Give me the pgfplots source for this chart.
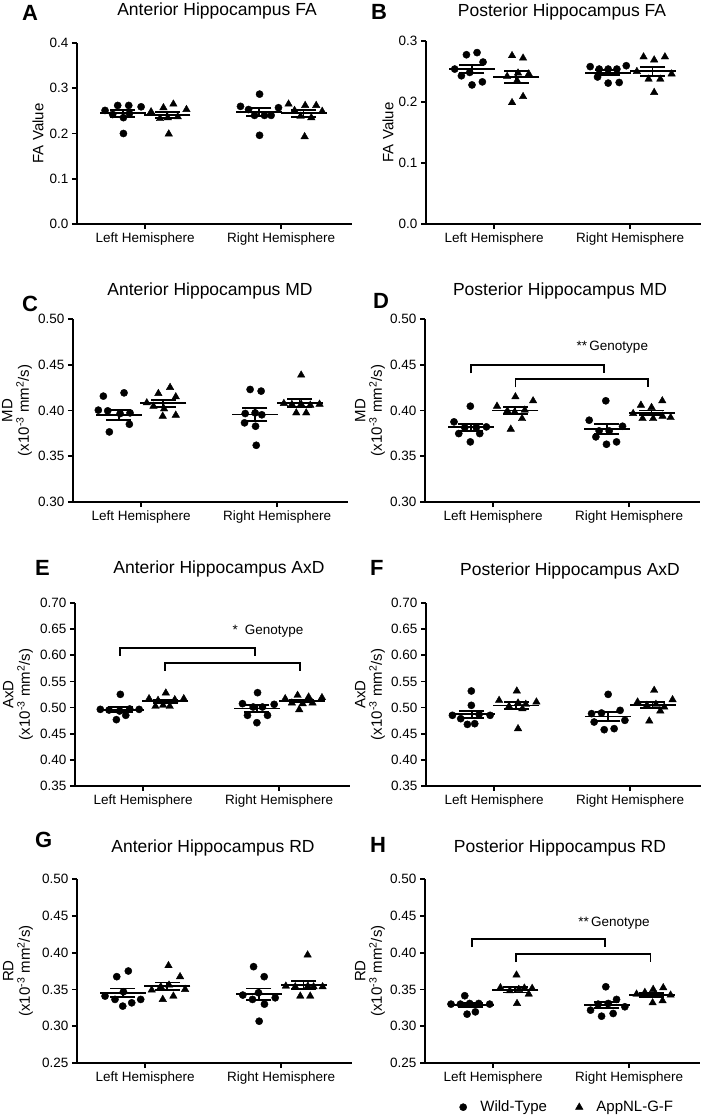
\documentclass[border=0pt]{standalone}
\usepackage{pgfplots}
\pgfplotsset{compat=1.18}
\usepackage{fontspec}
\setmainfont{Liberation Sans}
\newcommand{\fs}[2]{\fontsize{#1}{#2}\selectfont}
\pgfplotsset{
  prism/.style={
    scale only axis, width=275pt, height=183pt, anchor=south west,
    axis lines*=left, axis line style={-, line width=1.8pt},
    xmin=0.5, xmax=2.52,
    xtick={1,2}, xticklabels={Left Hemisphere, Right Hemisphere},
    tick align=outside, major tick length=5pt,
    every tick/.style={black, line width=1.8pt},
    tick label style={font=\fs{13.5}{16}},
    /pgf/number format/assume math mode=true,
    yticklabel style={/pgf/number format/fixed, /pgf/number format/fixed zerofill, /pgf/number format/precision=2},
    clip=false,
  },
  one/.style={yticklabel style={/pgf/number format/precision=1}},
  wt/.style={only marks, mark=*, mark size=3.6pt, black},
  app/.style={only marks, mark=triangle*, mark size=4.3pt, black},
  mline/.style={forget plot, only marks, mark=-, mark size=23pt, mark options={line width=1.9pt}, black,
    error bars/.cd, y dir=both, y explicit, error mark=none, error bar style={line width=1.9pt, black}},
  whisk/.style={forget plot, only marks, mark=-, mark size=12.5pt, mark options={line width=1.9pt}, black},
}
\tikzset{brk/.style={line width=1.8pt, line join=miter}}
\begin{document}
\begin{tikzpicture}
\useasboundingbox (0,0) rectangle (706pt,-1116pt);

% ---------- A ----------
\begin{axis}[prism, one, at={(77pt,-224pt)}, height=181pt, ymin=0, ymax=0.4, ytick={0,0.1,0.2,0.3,0.4}]
\addplot[wt] coordinates {(0.706,0.251) (0.799,0.262) (0.880,0.262) (0.971,0.259) (0.762,0.242) (0.841,0.235) (0.885,0.244) (0.841,0.200)
 (1.701,0.260) (1.841,0.287) (1.760,0.253) (1.980,0.257) (1.804,0.240) (1.877,0.240) (1.926,0.240) (1.841,0.196)};
\addplot[app] coordinates {(1.044,0.248) (1.135,0.257) (1.208,0.265) (1.304,0.253) (1.110,0.233) (1.167,0.235) (1.240,0.237) (1.174,0.199)
 (2.054,0.265) (2.098,0.251) (2.176,0.262) (2.257,0.262) (2.301,0.249) (2.142,0.238) (2.221,0.235) (2.172,0.193)};
\addplot[mline] coordinates {(0.836,0.2444) +- (0,0.0073) (1.164,0.2409) +- (0,0.0072) (1.836,0.2466) +- (0,0.0088) (2.164,0.2444) +- (0,0.0083)};
\addplot[whisk] coordinates {(0.836,0.2517) (0.836,0.2371) (1.164,0.2481) (1.164,0.2337) (1.836,0.2554) (1.836,0.2378) (2.164,0.2527) (2.164,0.2361)};
\end{axis}

% ---------- B ----------
\begin{axis}[prism, one, at={(426pt,-224pt)}, ymin=0, ymax=0.3, ytick={0,0.1,0.2,0.3}]
\addplot[wt] coordinates {(0.711,0.254) (0.797,0.2775) (0.875,0.281) (0.919,0.2655) (0.760,0.243) (0.821,0.2485) (0.838,0.228) (0.914,0.233)
 (1.706,0.258) (1.772,0.254) (1.838,0.254) (1.902,0.254) (1.971,0.2595) (1.760,0.241) (1.838,0.231) (1.919,0.232)};
\addplot[app] coordinates {(1.132,0.276) (1.213,0.272) (1.096,0.242) (1.176,0.2475) (1.255,0.246) (1.169,0.235) (1.213,0.209) (1.132,0.199)
 (2.049,0.250) (2.098,0.274) (2.176,0.269) (2.255,0.274) (2.304,0.246) (2.135,0.2375) (2.221,0.2375) (2.176,0.2157)};
\addplot[mline] coordinates {(0.836,0.2538) +- (0,0.0068) (1.164,0.2408) +- (0,0.0096) (1.836,0.2479) +- (0,0.0039) (2.164,0.2505) +- (0,0.0072)};
\addplot[whisk] coordinates {(0.836,0.2606) (0.836,0.2470) (1.164,0.2504) (1.164,0.2312) (1.836,0.2518) (1.836,0.2440) (2.164,0.2577) (2.164,0.2433)};
\end{axis}

% ---------- C ----------
\begin{axis}[prism, at={(73pt,-502pt)}, ymin=0.3, ymax=0.5, ytick={0.30,0.35,0.40,0.45,0.50}]
\addplot[wt] coordinates {(0.723,0.4157) (0.875,0.4193) (0.686,0.4004) (0.755,0.3996) (0.846,0.3967) (0.919,0.3974) (0.914,0.385) (0.767,0.3766)
 (1.801,0.423) (1.882,0.4212) (1.765,0.3967) (1.838,0.3974) (1.887,0.3953) (1.760,0.3865) (1.841,0.3828) (1.846,0.362)};
\addplot[app] coordinates {(1.042,0.4084) (1.127,0.4186) (1.213,0.4252) (1.255,0.415) (1.091,0.4047) (1.169,0.4018) (1.159,0.3938) (1.255,0.3949)
 (2.176,0.4387) (2.049,0.4077) (2.108,0.4066) (2.176,0.4069) (2.243,0.4058) (2.311,0.4069) (2.140,0.3974) (2.213,0.3974)};
\addplot[mline] coordinates {(0.836,0.3950) +- (0,0.0053) (1.164,0.4078) +- (0,0.0040) (1.836,0.3956) +- (0,0.0071) (2.164,0.4080) +- (0,0.0046)};
\addplot[whisk] coordinates {(0.836,0.4003) (0.836,0.3897) (1.164,0.4118) (1.164,0.4038) (1.836,0.4027) (1.836,0.3885) (2.164,0.4126) (2.164,0.4034)};
\end{axis}

% ---------- D ----------
\begin{axis}[prism, at={(425pt,-502pt)}, ymin=0.3, ymax=0.5, ytick={0.30,0.35,0.40,0.45,0.50}]
\addplot[wt] coordinates {(0.833,0.4047) (0.713,0.3876) (0.792,0.3814) (0.877,0.3814) (0.951,0.3821) (0.748,0.3748) (0.902,0.3748) (0.833,0.3657)
 (1.828,0.4106) (1.706,0.3894) (1.951,0.3828) (1.779,0.3777) (1.853,0.3777) (1.755,0.3712) (1.907,0.3657) (1.833,0.3631)};
\addplot[app] coordinates {(1.029,0.4047) (1.164,0.415) (1.294,0.4106) (1.105,0.3996) (1.159,0.3985) (1.233,0.4004) (1.213,0.3912) (1.130,0.3796)
 (2.086,0.4058) (2.243,0.4106) (2.029,0.3967) (2.164,0.4033) (2.098,0.3912) (2.176,0.3912) (2.245,0.3938) (2.304,0.3923)};
\addplot[mline] coordinates {(0.836,0.3816) +- (0,0.0039) (1.164,0.4000) +- (0,0.0039) (1.836,0.3798) +- (0,0.0053) (2.164,0.3975) +- (0,0.0025)};
\addplot[whisk] coordinates {(0.836,0.3855) (0.836,0.3777) (1.164,0.4039) (1.164,0.3961) (1.836,0.3851) (1.836,0.3745) (2.164,0.4000) (2.164,0.3950)};
\draw[brk] (axis cs:0.836,0.4405) -- (axis cs:0.836,0.4496) -- (axis cs:1.814,0.4496) -- (axis cs:1.814,0.4405);
\draw[brk] (axis cs:1.164,0.4252) -- (axis cs:1.164,0.4343) -- (axis cs:2.140,0.4343) -- (axis cs:2.140,0.4252);
\node[anchor=base west, inner sep=0pt, font=\fs{13.5}{16}] at (axis cs:1.613,0.4653) {**\,Genotype};
\end{axis}

% ---------- E ----------
\begin{axis}[prism, at={(75pt,-786pt)}, ymin=0.35, ymax=0.70, ytick={0.35,0.40,0.45,0.50,0.55,0.60,0.65,0.70}]
\addplot[wt] coordinates {(0.833,0.5253) (0.686,0.4966) (0.750,0.4953) (0.828,0.4934) (0.902,0.4973) (0.971,0.4966) (0.873,0.4852) (0.804,0.4769)
 (1.841,0.5285) (1.730,0.5075) (1.963,0.5062) (1.809,0.5011) (1.877,0.5011) (1.767,0.4852) (1.914,0.4852) (1.836,0.4711)};
\addplot[app] coordinates {(1.167,0.5279) (1.044,0.517) (1.110,0.5138) (1.233,0.5151) (1.299,0.517) (1.091,0.5024) (1.147,0.5043) (1.196,0.5024)
 (2.044,0.517) (2.135,0.5234) (2.216,0.5202) (2.314,0.519) (2.093,0.5087) (2.172,0.5075) (2.245,0.5087) (2.147,0.496)};
\addplot[mline] coordinates {(0.836,0.4958) +- (0,0.0050) (1.164,0.5125) +- (0,0.0030) (1.836,0.4982) +- (0,0.0064) (2.164,0.5126) +- (0,0.0028)};
\addplot[whisk] coordinates {(0.836,0.5008) (0.836,0.4908) (1.164,0.5155) (1.164,0.5095) (1.836,0.5046) (1.836,0.4918) (2.164,0.5154) (2.164,0.5098)};
\draw[brk] (axis cs:0.833,0.599) -- (axis cs:0.833,0.614) -- (axis cs:1.824,0.614) -- (axis cs:1.824,0.599);
\draw[brk] (axis cs:1.164,0.570) -- (axis cs:1.164,0.585) -- (axis cs:2.152,0.585) -- (axis cs:2.152,0.570);
\node[anchor=base west, inner sep=0pt, font=\fs{13.5}{16}] at (axis cs:1.657,0.6407) {*\hspace{7pt}Genotype};
\end{axis}

% ---------- F ----------
\begin{axis}[prism, at={(426pt,-786pt)}, ymin=0.35, ymax=0.70, ytick={0.35,0.40,0.45,0.50,0.55,0.60,0.65,0.70}]
\addplot[wt] coordinates {(0.833,0.5317) (0.833,0.5043) (0.694,0.4852) (0.755,0.4788) (0.890,0.4871) (0.971,0.4852) (0.804,0.4679) (0.858,0.4692)
 (1.838,0.5253) (1.716,0.4884) (1.789,0.4896) (1.926,0.4947) (1.961,0.4756) (1.735,0.4724) (1.809,0.4577) (1.882,0.4597)};
\addplot[app] coordinates {(1.167,0.5317) (1.037,0.5138) (1.110,0.5024) (1.176,0.5087) (1.233,0.5062) (1.311,0.5107) (1.208,0.4979) (1.176,0.4597)
 (2.176,0.533) (2.054,0.5107) (2.311,0.5151) (2.123,0.5043) (2.189,0.5062) (2.250,0.5011) (2.221,0.4934) (2.140,0.4743)};
\addplot[mline] coordinates {(0.836,0.4870) +- (0,0.0070) (1.164,0.5039) +- (0,0.0071) (1.836,0.4829) +- (0,0.0078) (2.164,0.5048) +- (0,0.0060)};
\addplot[whisk] coordinates {(0.836,0.4940) (0.836,0.4800) (1.164,0.5110) (1.164,0.4968) (1.836,0.4907) (1.836,0.4751) (2.164,0.5108) (2.164,0.4988)};
\end{axis}

% ---------- G ----------
\begin{axis}[prism, at={(77pt,-1063pt)}, height=184pt, ymin=0.25, ymax=0.50, ytick={0.25,0.30,0.35,0.40,0.45,0.50}]
\addplot[wt] coordinates {(0.792,0.3673) (0.877,0.375) (0.706,0.3409) (0.779,0.3364) (0.841,0.3468) (0.902,0.3318) (0.968,0.3364) (0.836,0.3273)
 (1.797,0.3809) (1.875,0.3673) (1.718,0.3423) (1.833,0.3455) (1.789,0.3364) (1.956,0.3386) (1.877,0.33) (1.838,0.3068)};
\addplot[app] coordinates {(1.172,0.3823) (1.257,0.3673) (1.049,0.3491) (1.115,0.3536) (1.176,0.3559) (1.294,0.35) (1.130,0.3364) (1.208,0.3409)
 (2.194,0.3968) (2.034,0.3545) (2.103,0.3536) (2.196,0.3545) (2.238,0.3536) (2.304,0.3536) (2.140,0.3409) (2.213,0.3409)};
\addplot[mline] coordinates {(0.836,0.3452) +- (0,0.0060) (1.164,0.3544) +- (0,0.0050) (1.836,0.3435) +- (0,0.0078) (2.164,0.3560) +- (0,0.0060)};
\addplot[whisk] coordinates {(0.836,0.3512) (0.836,0.3392) (1.164,0.3594) (1.164,0.3494) (1.836,0.3513) (1.836,0.3357) (2.164,0.3620) (2.164,0.3500)};
\end{axis}

% ---------- H ----------
\begin{axis}[prism, at={(425pt,-1063pt)}, height=184pt, ymin=0.25, ymax=0.50, ytick={0.25,0.30,0.35,0.40,0.45,0.50},
  legend columns=2,
  legend image code/.code={\path (-6pt,0pt) (15pt,0pt); \draw[#1] plot coordinates {(0pt,0pt)};},
  legend style={at={(axis description cs:0.513,-0.24)}, anchor=center, draw=none, fill=none, font=\fs{15}{18},
    /tikz/every even column/.append style={column sep=24pt}}]
\addplot[wt] coordinates {(0.792,0.3414) (0.691,0.33) (0.760,0.33) (0.828,0.3309) (0.895,0.3309) (0.975,0.33) (0.809,0.3164) (0.870,0.3195)
 (1.828,0.3536) (1.716,0.3218) (1.772,0.33) (1.846,0.3309) (1.907,0.3364) (1.968,0.3264) (1.797,0.3136) (1.882,0.3173)};
\addplot[app] coordinates {(1.172,0.3695) (1.054,0.3523) (1.123,0.3482) (1.189,0.35) (1.230,0.3518) (1.287,0.3514) (1.262,0.3436) (1.176,0.3309)
 (2.054,0.3436) (2.115,0.3459) (2.176,0.35) (2.250,0.3523) (2.304,0.3423) (2.172,0.3318) (2.245,0.3345) (2.189,0.3423)};
\addplot[mline] coordinates {(0.836,0.3286) +- (0,0.0028) (1.164,0.3497) +- (0,0.0039) (1.836,0.3288) +- (0,0.0046) (2.164,0.3428) +- (0,0.0027)};
\addplot[whisk] coordinates {(0.836,0.3314) (0.836,0.3258) (1.164,0.3536) (1.164,0.3458) (1.836,0.3334) (1.836,0.3242) (2.164,0.3455) (2.164,0.3401)};
\draw[brk] (axis cs:0.846,0.4076) -- (axis cs:0.846,0.418) -- (axis cs:1.821,0.418) -- (axis cs:1.821,0.4076);
\draw[brk] (axis cs:1.169,0.387) -- (axis cs:1.169,0.398) -- (axis cs:2.157,0.398) -- (axis cs:2.157,0.387);
\node[anchor=base west, inner sep=0pt, font=\fs{13.5}{16}] at (axis cs:1.625,0.4361) {**\,Genotype};
\legend{Wild-Type, AppNL-G-F}
\end{axis}

% ---------- titles ----------
\begin{scope}[every node/.style={font=\fs{17.5}{20}, anchor=base, inner sep=0pt}]
\node at (217pt,-16pt) {Anterior Hippocampus FA};
\node at (562pt,-17pt) {Posterior Hippocampus FA};
\node at (210pt,-295pt) {Anterior Hippocampus MD};
\node at (560pt,-295pt) {Posterior Hippocampus MD};
\node at (219pt,-573pt) {Anterior Hippocampus AxD};
\node at (570pt,-575pt) {Posterior Hippocampus AxD};
\node at (213pt,-852pt) {Anterior Hippocampus RD};
\node at (560pt,-852pt) {Posterior Hippocampus RD};
\end{scope}
% ---------- panel letters ----------
\begin{scope}[every node/.style={font=\fs{22}{24}\bfseries, anchor=base west, inner sep=0pt}]
\node at (22pt,-21pt) {A};
\node at (371pt,-20pt) {B};
\node at (22pt,-311pt) {C};
\node at (373pt,-308pt) {D};
\node at (35pt,-575pt) {E};
\node at (370pt,-575pt) {F};
\node at (35pt,-847pt) {G};
\node at (370pt,-852pt) {H};
\end{scope}
% ---------- y labels ----------
\begin{scope}[every node/.style={font=\fs{15}{16.5}, rotate=90, align=center, anchor=center, inner sep=0pt}]
\node at (38pt,-133.5pt) {FA Value};
\node at (388pt,-132.5pt) {FA Value};
\node at (17pt,-410.5pt) {MD\\(x10\textsuperscript{-3} mm\textsuperscript{2}/s)};
\node at (370pt,-410.5pt) {MD\\(x10\textsuperscript{-3} mm\textsuperscript{2}/s)};
\node at (18pt,-694.5pt) {AxD\\(x10\textsuperscript{-3} mm\textsuperscript{2}/s)};
\node at (370pt,-694.5pt) {AxD\\(x10\textsuperscript{-3} mm\textsuperscript{2}/s)};
\node at (18pt,-971pt) {RD\\(x10\textsuperscript{-3} mm\textsuperscript{2}/s)};
\node at (370pt,-971pt) {RD\\(x10\textsuperscript{-3} mm\textsuperscript{2}/s)};
\end{scope}
\end{tikzpicture}
\end{document}
